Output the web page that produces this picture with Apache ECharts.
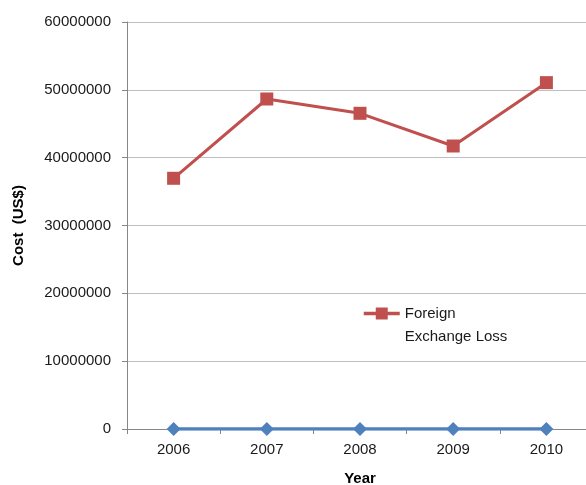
<!DOCTYPE html>
<html>
<head>
<meta charset="utf-8">
<script src="https://cdn.jsdelivr.net/npm/echarts@6/dist/echarts.min.js"></script>
<style>
html,body{margin:0;padding:0;background:#fff;}
#chart{width:586px;height:485px;}
</style>
</head>
<body>
<div id="chart"></div>
<script>
const years = ['2006', '2007', '2008', '2009', '2010'];
const foreignExchangeLoss = [36960000, 48650000, 46540000, 41720000, 51060000];
const otherSeries = [0, 0, 0, 0, 0];
const yTicks = { min: 0, max: 60000000, interval: 10000000 };

const chart = echarts.init(document.getElementById('chart'));
const font = 'Liberation Sans';
chart.setOption({
  animation: false,
  backgroundColor: '#ffffff',
  grid: { left: 127, right: -7, top: 22, bottom: 56, containLabel: false, outerBoundsMode: 'none' },
  legend: {
    data: ['Foreign Exchange Loss'],
    left: 357,
    top: 274,
    itemWidth: 36,
    itemHeight: 15,
    itemGap: 5,
    lineStyle: { width: 3.5, color: '#c0504d' },
    formatter: function () { return '\nForeign\nExchange Loss'; },
    textStyle: {
      fontFamily: font, fontSize: 15, color: '#1a1a1a',
      lineHeight: 23
    }
  },
  xAxis: {
    type: 'category',
    data: years,
    boundaryGap: true,
    name: 'Year',
    nameLocation: 'middle',
    nameGap: 42,
    nameTextStyle: { fontFamily: font, fontSize: 15, fontWeight: 'bold', color: '#000' },
    axisLine: { lineStyle: { color: '#868686', width: 1 } },
    axisTick: { show: true, alignWithLabel: false, length: 5, lineStyle: { color: '#868686' } },
    axisLabel: { fontFamily: font, fontSize: 15, color: '#1a1a1a', margin: 13 },
    splitLine: { show: false }
  },
  yAxis: {
    type: 'value',
    min: yTicks.min,
    max: yTicks.max,
    interval: yTicks.interval,
    name: 'Cost  (US$)',
    nameLocation: 'middle',
    nameGap: 101,
    nameTextStyle: { fontFamily: font, fontSize: 15, fontWeight: 'bold', color: '#000' },
    axisLine: { show: true, lineStyle: { color: '#868686', width: 1 } },
    axisTick: { show: true, length: 5, lineStyle: { color: '#868686' } },
    axisLabel: {
      fontFamily: font, fontSize: 15, color: '#1a1a1a', margin: 16,
      formatter: function (v) { return String(v); }
    },
    splitLine: { show: true, lineStyle: { color: '#bfbfbf', width: 1 } }
  },
  series: [
    {
      name: 'Series 1',
      type: 'line',
      data: otherSeries,
      symbol: 'diamond',
      symbolSize: 14,
      lineStyle: { color: '#4f81bd', width: 3.5 },
      itemStyle: { color: '#4f81bd' },
      z: 3
    },
    {
      name: 'Foreign Exchange Loss',
      type: 'line',
      data: foreignExchangeLoss,
      symbol: 'rect',
      symbolSize: 13,
      lineStyle: { color: '#c0504d', width: 3 },
      itemStyle: { color: '#c0504d' },
      z: 4
    }
  ]
});
</script>
</body>
</html>
